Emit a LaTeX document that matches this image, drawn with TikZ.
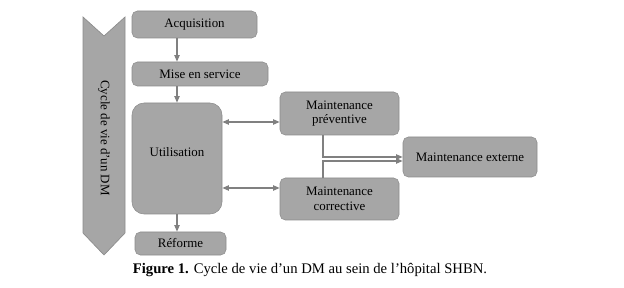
\documentclass[tikz,border=0pt]{standalone}
\usepackage{fontspec}
\setmainfont{Liberation Serif}
\usepackage{tikz}
\usetikzlibrary{arrows.meta,positioning,calc}
\definecolor{DMGray}{HTML}{A6A6A6}
\definecolor{DMEdge}{HTML}{8C8C8C}
\definecolor{DMArrow}{HTML}{808080}

\begin{document}
\begin{tikzpicture}[x=0.75pt, y=-0.75pt,
  stage/.style={draw=DMEdge, fill=DMGray, rounded corners=4pt,
                align=center, inner sep=1pt, font=\fontsize{9.7}{11}\selectfont},
  arr/.style={-{Triangle[length=5pt,width=4pt]}, line width=0.9pt, color=DMArrow},
  darr/.style={{Triangle[length=5pt,width=4pt]}-{Triangle[length=5pt,width=4pt]},
               line width=0.9pt, color=DMArrow}
]
\useasboundingbox (0,0) rectangle (624,288);

% Chevron on the left
\fill[DMGray, draw=DMEdge, line width=0.5pt]
  (83,17) -- (104,36) -- (125,17) -- (125,233) -- (104,255) -- (83,233) -- cycle;
\node[rotate=-90, font=\fontsize{9.7}{11}\selectfont] (cycle) at (104,138)
  {Cycle de vie d'un DM};

% Life cycle stages
\node[stage, minimum width=125*0.75pt, minimum height=27*0.75pt] (acq) at (194.5,24.5) {Acquisition};
\node[stage, minimum width=136*0.75pt, minimum height=24*0.75pt] (mise) at (200,74) {Mise en service};
\node[stage, rounded corners=9pt, minimum width=90*0.75pt, minimum height=111*0.75pt] (util) at (177,158.5) {\raisebox{9pt}{Utilisation}};
\node[stage, minimum width=91*0.75pt, minimum height=23*0.75pt] (ref) at (180.5,243.5) {Réforme};

% Maintenance
\node[stage, minimum width=119*0.75pt, minimum height=43*0.75pt] (prev) at (339.5,113.5) {Maintenance\\préventive};
\node[stage, minimum width=119*0.75pt, minimum height=42*0.75pt] (corr) at (339.5,199) {Maintenance\\corrective};
\node[stage, minimum width=134*0.75pt, minimum height=40*0.75pt] (ext) at (470,157) {Maintenance externe};

% Vertical flow
\draw[arr] (acq.south -| util.north) -- (mise.north -| util.north);
\draw[arr] (mise.south -| util.north) -- (util.north);
\draw[arr] (util.south) -- (ref.north -| util.south);

% Links to maintenance
\coordinate (pu) at ($(prev.west)+(0,8.5)$);
\coordinate (cu) at ($(corr.west)+(0,-11)$);
\draw[darr] (pu -| util.east) -- (pu);
\draw[darr] (cu -| util.east) -- (cu);

\coordinate (pd) at ($(prev.south)+(-16.5,0)$);
\coordinate (cd) at ($(corr.north)+(-16.5,0)$);
\coordinate (ei) at ($(ext.west)+(0,4)$);
\draw[arr] (pd) |- (ext.west);
\draw[arr] (cd) |- (ei);

% Caption
\node[font=\fontsize{11}{13}\selectfont] (cap) at (310,270)
  {\textbf{Figure 1.} Cycle de vie d’un DM au sein de l’hôpital SHBN.};

\end{tikzpicture}
\end{document}
